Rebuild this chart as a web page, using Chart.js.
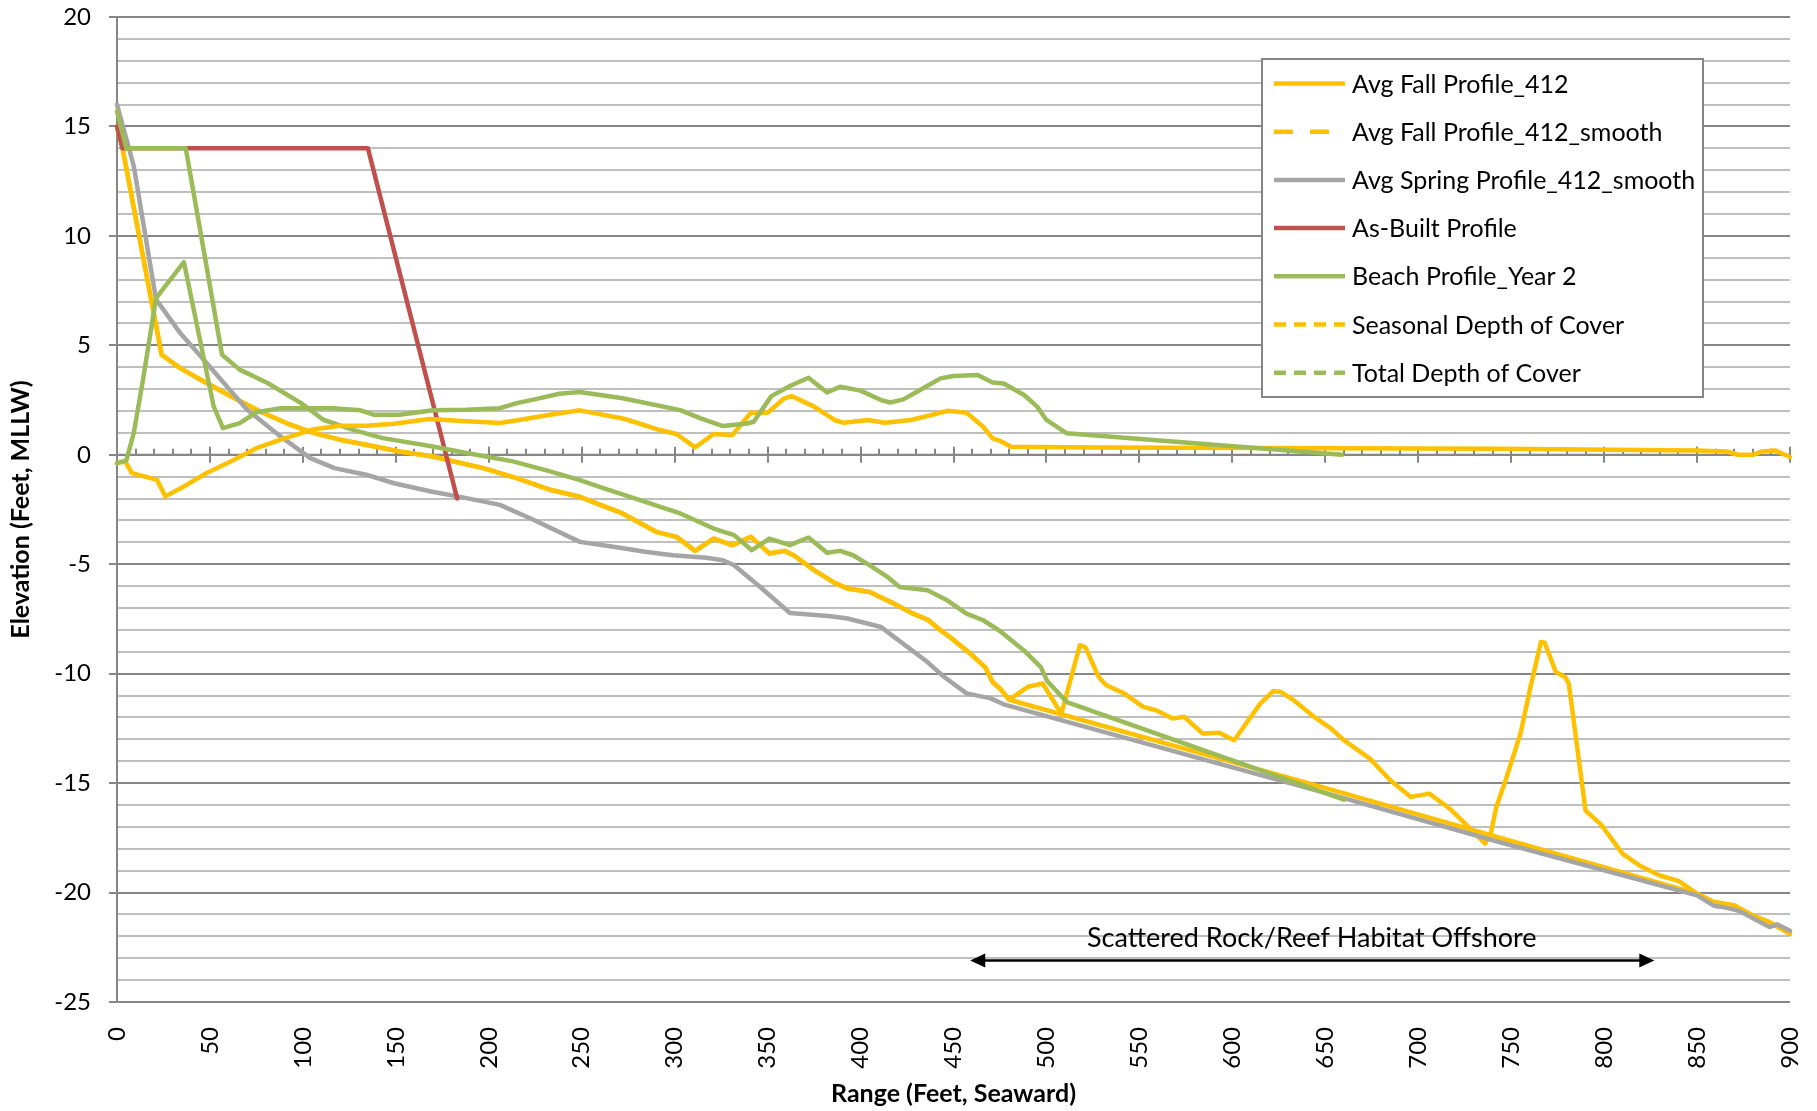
<!DOCTYPE html>
<html>
<head>
<meta charset="utf-8">
<script src="https://cdn.jsdelivr.net/npm/chart.js@4.4.1/dist/chart.umd.min.js"></script>
<style>
html,body{margin:0;padding:0;background:#fff;}
#wrap{width:1817px;height:1111px;position:relative;}
</style>
</head>
<body>
<div id="wrap"><canvas id="c"></canvas></div>
<script>
// ---------------- DATA ----------------
const seriesNames = [
  'Avg Fall Profile_412',
  'Avg Fall Profile_412_smooth',
  'Avg Spring Profile_412_smooth',
  'As-Built Profile',
  'Beach Profile_Year 2',
  'Seasonal Depth of Cover',
  'Total Depth of Cover'
];

const fallX = [0,3,24,34,45,63,77,91,106,120,134,152,170,179,197,215,233,249,260,272,290,301,311,321,331,341,351,359,364,375,386,393,405,418,427,436,443,448,459,467,471,475,480,490,498,508,518,521,528,532,542,552,559,568,574,584,593,601,615,622,626,633,644,653,660,674,685,696,706,717,728,736,739,742,747,755,760,766,768,774,779,781,790,798,810,819,830,840,850,859,870,880,889,900];
const fallY = [15,14,4.57,3.96,3.43,2.59,1.98,1.45,0.99,0.69,0.46,0.15,-0.08,-0.26,-0.61,-1.07,-1.6,-1.92,-2.29,-2.68,-3.52,-3.75,-4.39,-3.83,-4.13,-3.75,-4.51,-4.39,-4.59,-5.27,-5.85,-6.11,-6.27,-6.8,-7.21,-7.53,-8.02,-8.32,-9.08,-9.7,-10.38,-10.68,-11.19,-10.6,-10.45,-11.83,-8.7,-8.8,-10.14,-10.52,-10.91,-11.52,-11.67,-12.05,-11.97,-12.73,-12.7,-13.04,-11.37,-10.8,-10.83,-11.21,-11.97,-12.5,-13.04,-13.88,-14.87,-15.63,-15.48,-16.17,-17.08,-17.77,-17.31,-16.09,-14.87,-12.74,-10.76,-8.55,-8.59,-9.92,-10.15,-10.46,-16.25,-16.86,-18.23,-18.76,-19.22,-19.47,-20.05,-20.43,-20.59,-21.05,-21.35,-21.89];

const fallSmoothX = [0,3,24,34,45,63,77,91,106,120,134,152,170,179,197,215,233,249,260,272,290,301,311,321,331,341,351,359,364,375,386,393,405,418,427,436,443,448,459,467,471,475,480,647,740,850,859,870,880,889,900];
const fallSmoothY = [15,14,4.57,3.96,3.43,2.59,1.98,1.45,0.99,0.69,0.46,0.15,-0.08,-0.26,-0.61,-1.07,-1.6,-1.92,-2.29,-2.68,-3.52,-3.75,-4.39,-3.83,-4.13,-3.75,-4.51,-4.39,-4.59,-5.27,-5.85,-6.11,-6.27,-6.8,-7.21,-7.53,-8.02,-8.32,-9.08,-9.7,-10.38,-10.68,-11.19,-15.15,-17.4,-20.05,-20.43,-20.59,-21.05,-21.35,-21.89];

const springX = [0,9,21,34,45,70,88,104,117,134,149,169,188,206,224,249,267,285,299,317,326,332,346,362,384,393,411,418,436,445,457,470,477,647,744,850,859,866,873,889,893,900];
const springY = [16,13.2,7.1,5.56,4.5,2.06,0.84,-0.15,-0.61,-0.91,-1.3,-1.68,-1.98,-2.29,-2.97,-3.98,-4.2,-4.44,-4.59,-4.7,-4.82,-5.05,-6.04,-7.23,-7.38,-7.48,-7.87,-8.32,-9.47,-10.15,-10.9,-11.13,-11.4,-15.38,-17.7,-20.13,-20.6,-20.7,-20.85,-21.58,-21.45,-21.75];

const asBuiltX = [0,3,135,183];
const asBuiltY = [15,14,14,-2];

const year2X = [0,5,37,56.5,66,81,99,111,127,143,170,188,213,233,249,260,276,303,321,332,341.5,351,362,372,382,389,396,405,414,421,436,446,457,466,475,488,497,500.5,511,660];
const year2Y = [15.7,14,14,4.57,3.89,3.28,2.36,1.6,1.14,0.76,0.38,0.08,-0.3,-0.76,-1.16,-1.48,-1.92,-2.68,-3.37,-3.67,-4.36,-3.83,-4.13,-3.78,-4.48,-4.39,-4.59,-5.05,-5.55,-6.04,-6.19,-6.62,-7.26,-7.56,-8.05,-8.95,-9.7,-10.35,-11.3,-15.76];

const seasonalX = [0,4.5,8,21.5,26,36,48,63,75,88,106,120,134,149,168,181,206,217,233,249,272,281,292,301,311,321,331,341,350,359,363,375,386,391,404,413,427,436,447,457,466,471,475,481,530,650,744,850,866,872,880,885,892,896,900];
const seasonalY = [-0.38,-0.3,-0.84,-1.14,-1.9,-1.45,-0.84,-0.23,0.3,0.69,1.17,1.33,1.33,1.42,1.63,1.57,1.45,1.6,1.83,2.03,1.66,1.43,1.13,0.95,0.34,0.95,0.9,1.92,1.92,2.58,2.68,2.2,1.59,1.46,1.59,1.46,1.59,1.77,2.01,1.92,1.28,0.75,0.64,0.37,0.33,0.3,0.27,0.2,0.15,0.0,0.0,0.15,0.2,0.05,-0.1];

const totalX = [0,5,9,14,21,36,45,52,57,66,75,88,116,131,138,152,170,188,206,215,224,238,249,272,303,314,326,339,342.5,352,362,372,382,389,400,411,416,423,432,443,450,463,471,477,488,495,500,511,659];
const totalY = [-0.38,-0.26,0.99,3.43,7.16,8.8,5.1,2.21,1.22,1.45,1.94,2.13,2.13,2.03,1.83,1.83,2.03,2.06,2.13,2.36,2.52,2.79,2.87,2.58,2.04,1.66,1.31,1.43,1.51,2.68,3.14,3.52,2.85,3.11,2.93,2.5,2.39,2.53,2.96,3.49,3.6,3.64,3.3,3.26,2.73,2.2,1.59,0.98,0.0];

const yTickValues = [20,15,10,5,0,-5,-10,-15,-20,-25];
const xTickValues = [0,50,100,150,200,250,300,350,400,450,500,550,600,650,700,750,800,850,900];
const annotationText = 'Scattered Rock/Reef Habitat Offshore';

// ---------------- STYLES ----------------
const seriesColors = ['#FFC000','#FFC000','#A5A5A5','#C0504D','#9BBB59','#FFC000','#9BBB59'];
const legendDashes = [[],[19,17],[],[],[],[12,8],[12,8]];
const FONT = 'Lato, "Open Sans", sans-serif';

function pts(xs, ys){ return xs.map((x,i)=>({x:x, y:ys[i]})); }
const allX = [fallX, fallSmoothX, springX, asBuiltX, year2X, seasonalX, totalX];
const allY = [fallY, fallSmoothY, springY, asBuiltY, year2Y, seasonalY, totalY];

const datasets = seriesNames.map((name,i)=>({
  label: name,
  data: pts(allX[i], allY[i]),
  borderColor: seriesColors[i],
  backgroundColor: seriesColors[i],
  borderWidth: 4.5,
  pointRadius: 0,
  pointHoverRadius: 0,
  showLine: true,
  tension: 0,
  fill: false,
  borderJoinStyle: 'round',
  borderCapStyle: 'round',
  clip: false,
  order: seriesNames.length - i
}));

// x-axis crossing at zero, with major/minor tick marks
const zeroAxisPlugin = {
  id: 'zeroAxis',
  beforeDatasetsDraw(chart){
    const {ctx, chartArea, scales:{x, y}} = chart;
    const y0 = y.getPixelForValue(0);
    ctx.save();
    ctx.strokeStyle = '#868686';
    ctx.lineWidth = 2;
    ctx.beginPath();
    ctx.moveTo(chartArea.left, y0); ctx.lineTo(chartArea.right, y0);
    for (let v = 0; v <= 900; v += 10){
      const px = Math.round(x.getPixelForValue(v));
      if (v % 50 === 0){ ctx.moveTo(px, y0-8); ctx.lineTo(px, y0+8); }
      else { ctx.moveTo(px, y0-6); ctx.lineTo(px, y0); }
    }
    ctx.stroke();
    ctx.restore();
  }
};

// double-headed arrow with its label
const arrowPlugin = {
  id: 'habitatArrow',
  afterDatasetsDraw(chart){
    const {ctx, scales:{x, y}} = chart;
    const x1 = x.getPixelForValue(459), x2 = x.getPixelForValue(827);
    const ya = y.getPixelForValue(-23.1);
    ctx.save();
    ctx.strokeStyle = '#000'; ctx.fillStyle = '#000'; ctx.lineWidth = 2.5;
    ctx.beginPath(); ctx.moveTo(x1+12, ya); ctx.lineTo(x2-12, ya); ctx.stroke();
    ctx.beginPath(); ctx.moveTo(x1, ya); ctx.lineTo(x1+15, ya-7); ctx.lineTo(x1+15, ya+7); ctx.closePath(); ctx.fill();
    ctx.beginPath(); ctx.moveTo(x2, ya); ctx.lineTo(x2-15, ya-7); ctx.lineTo(x2-15, ya+7); ctx.closePath(); ctx.fill();
    ctx.font = '27px ' + FONT;
    ctx.textAlign = 'left'; ctx.textBaseline = 'alphabetic';
    ctx.fillText(annotationText, x.getPixelForValue(521.8), y.getPixelForValue(-22.49));
    ctx.restore();
  }
};

// boxed legend inside the plot
const boxLegendPlugin = {
  id: 'boxLegend',
  afterDraw(chart){
    const ctx = chart.ctx;
    const L = 1262, T = 59, R = 1703, B = 397;
    ctx.save();
    ctx.fillStyle = '#fff'; ctx.fillRect(L, T, R-L, B-T);
    ctx.strokeStyle = '#868686'; ctx.lineWidth = 2; ctx.strokeRect(L, T, R-L, B-T);
    chart.data.datasets.forEach((ds, i) => {
      const yy = 83.5 + i*48.2;
      ctx.beginPath();
      ctx.setLineDash(legendDashes[i]);
      ctx.strokeStyle = ds.borderColor; ctx.lineWidth = 4.5; ctx.lineCap = 'butt';
      ctx.moveTo(1274, yy); ctx.lineTo(1345, yy); ctx.stroke();
      ctx.setLineDash([]);
      ctx.fillStyle = '#000';
      ctx.font = '25px ' + FONT;
      ctx.textAlign = 'left'; ctx.textBaseline = 'alphabetic';
      ctx.fillText(ds.label, 1352, yy + 9);
    });
    ctx.restore();
  }
};

function build(){
  new Chart(document.getElementById('c'), {
    type: 'scatter',
    data: { datasets },
    plugins: [zeroAxisPlugin, arrowPlugin, boxLegendPlugin],
    options: {
      responsive: true,
      maintainAspectRatio: false,
      animation: false,
      events: [],
      layout: { padding: { top: 17, right: 27, left: 0, bottom: 0 } },
      plugins: { legend: { display: false }, tooltip: { enabled: false } },
      scales: {
        x: {
          type: 'linear', position: 'bottom', min: 0, max: 900,
          afterBuildTicks: (s) => { s.ticks = xTickValues.map(v => ({value: v})); },
          afterFit: (s) => { s.height = 109; s.paddingLeft = 0; s.paddingRight = 0; },
          grid: { display: false, drawTicks: false },
          border: { display: false },
          ticks: { autoSkip: false, minRotation: 90, maxRotation: 90, padding: 25, color: '#000', font: { family: FONT, size: 24 } },
          title: { display: true, text: 'Range (Feet, Seaward)', color: '#000',
                   font: { family: FONT, size: 25, weight: 'bold' }, padding: { top: 0, bottom: 2 } }
        },
        y: {
          type: 'linear', min: -25, max: 20,
          ticks: { autoSkip: false, stepSize: 1, padding: 18, color: '#000', font: { family: FONT, size: 24 },
                   callback: (v) => yTickValues.includes(v) ? String(v) : '' },
          afterFit: (s) => { s.width = 117; s.paddingTop = 0; s.paddingBottom = 0; },
          grid: {
            color: (c) => (c.tick && c.tick.value % 5 === 0) ? '#868686' : '#BFBFBF',
            tickColor: (c) => (c.tick && c.tick.value % 5 === 0) ? '#868686' : 'rgba(0,0,0,0)',
            lineWidth: 2, tickLength: 8, tickWidth: 2
          },
          border: { display: true, color: '#868686', width: 2 },
          title: { display: true, text: 'Elevation (Feet, MLLW)', color: '#000',
                   font: { family: FONT, size: 25, weight: 'bold' }, padding: { top: 6, bottom: 0 } }
        }
      }
    }
  });
}
if (document.fonts && document.fonts.load) {
  Promise.all([document.fonts.load('24px Lato'), document.fonts.load('bold 25px Lato')]).then(build, build);
} else { build(); }
</script>
</body>
</html>
